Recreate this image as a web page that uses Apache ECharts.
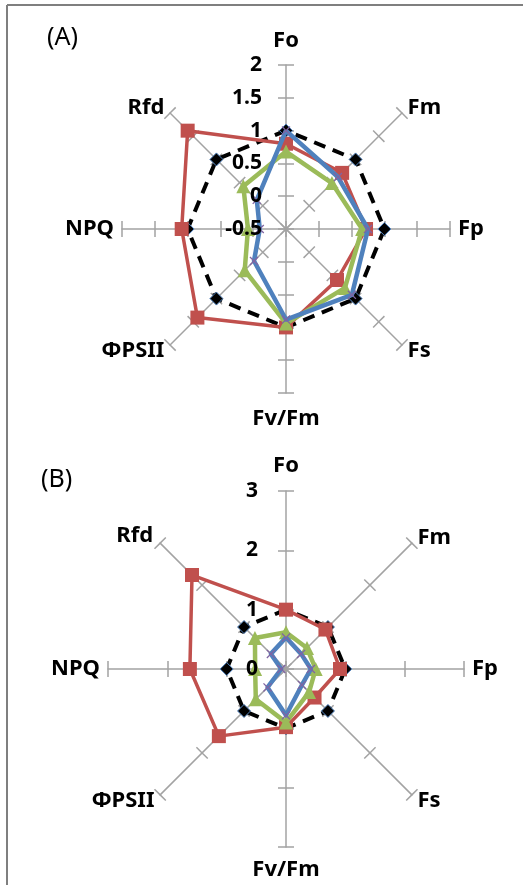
<!DOCTYPE html>
<html>
<head>
<meta charset="utf-8">
<script src="https://cdn.jsdelivr.net/npm/echarts@6/dist/echarts.min.js"></script>
<style>
html,body{margin:0;padding:0;background:#fff;}
#chart{width:523px;height:885px;}
</style>
</head>
<body>
<div id="chart"></div>
<script>
// ---- data (clockwise from top, as in the reference) ----
const categories = ['Fo', 'Fm', 'Fp', 'Fs', 'Fv/Fm', 'ΦPSII', 'NPQ', 'Rfd'];

// Panel A scale
const minA = -0.5, maxA = 2, splitA = 5;
// Panel B scale
const minB = 0, maxB = 3, splitB = 3;

// Panel A series
const controlA = [1, 1, 1, 1, 1, 1, 1, 1];
const redA     = [0.80, 0.71, 0.72, 0.60, 1.00, 1.41, 1.09, 1.62];
const greenA   = [0.68, 0.49, 0.66, 0.77, 0.94, 0.39, 0.08, 0.42];
const blueA    = [1.00, 0.62, 0.75, 0.92, 0.88, 0.19, -0.10, 0.13];

// Panel B series
const controlB = [1, 1, 1, 1, 1, 1, 1, 1];
const redB     = [1.00, 0.94, 0.91, 0.68, 0.98, 1.60, 1.62, 2.24];
const greenB   = [0.62, 0.50, 0.50, 0.55, 0.90, 0.72, 0.52, 0.74];
const blueB    = [0.53, 0.36, 0.42, 0.38, 0.78, 0.44, 0.08, 0.36];

// ---- build ----
// ECharts places indicators counter-clockwise; reorder to get clockwise layout.
const ecOrder = [0, 7, 6, 5, 4, 3, 2, 1];
const reorder = arr => ecOrder.map(i => arr[i]);

const FONT = 'Noto Sans';
const AXIS_COLOR = '#a3a3a3';

function makeRadars(center, radius, min, max, split, gaps, labelMargin) {
  const common = {
    center: center, radius: radius, splitNumber: split, startAngle: 90,
    shape: 'polygon',
    splitLine: { show: false }, splitArea: { show: false }
  };
  const tickStyle = { color: AXIS_COLOR, width: 1.5 };
  const named = ecOrder.map(i => {
    const ind = { name: categories[i], min: min, max: max };
    if (gaps[categories[i]] != null) ind.nameGap = gaps[categories[i]];
    return ind;
  });
  const blank = ecOrder.map(i => ({ name: '', min: min, max: max }));
  const labelled = ecOrder.map(i => {
    const ind = { name: '', min: min, max: max };
    if (i === 0) {
      ind.axisLabel = {
        show: true, color: '#000', fontFamily: FONT, fontWeight: 'bold',
        fontSize: 21, margin: labelMargin, align: 'right', verticalAlign: 'middle'
      };
    }
    return ind;
  });
  return [
    Object.assign({}, common, {
      z: 0,
      indicator: named,
      nameGap: 8,
      axisName: { color: '#000', fontFamily: FONT, fontWeight: 'bold', fontSize: 22 },
      axisLine: { show: true, lineStyle: { color: AXIS_COLOR, width: 1.5 } },
      axisTick: { show: true, length: 8, lineStyle: tickStyle },
      axisLabel: { show: false }
    }),
    // second copy: ticks on the other side of each spoke
    Object.assign({}, common, {
      z: 0,
      indicator: blank,
      axisName: { show: false },
      axisLine: { show: false },
      axisTick: { show: true, length: -8, lineStyle: tickStyle },
      axisLabel: { show: false }
    }),
    // tick labels drawn above the data lines
    Object.assign({}, common, {
      z: 20,
      indicator: labelled,
      axisName: { show: false },
      axisLine: { show: false },
      axisTick: { show: false },
      axisLabel: { show: false }
    })
  ];
}

const xPath = 'path://M0,1L1,0L5,4L9,0L10,1L6,5L10,9L9,10L5,6L1,10L0,9L4,5Z';

function makeSeries(radarIndex, control, red, green, blue) {
  return [
    {
      type: 'radar', radarIndex: radarIndex, z: 3,
      symbol: 'diamond', symbolSize: 13,
      itemStyle: { color: '#000', borderColor: '#4F81BD', borderWidth: 1 },
      lineStyle: { color: '#000', width: 4, type: [12, 8] },
      data: [{ value: reorder(control) }]
    },
    {
      type: 'radar', radarIndex: radarIndex, z: 4,
      symbol: 'rect', symbolSize: 14,
      itemStyle: { color: '#C0504D' },
      lineStyle: { color: '#C0504D', width: 3.5 },
      data: [{ value: reorder(red) }]
    },
    {
      type: 'radar', radarIndex: radarIndex, z: 5,
      symbol: 'triangle', symbolSize: 14,
      itemStyle: { color: '#9BBB59' },
      lineStyle: { color: '#9BBB59', width: 4.5 },
      data: [{ value: reorder(green) }]
    },
    {
      type: 'radar', radarIndex: radarIndex, z: 6,
      symbol: xPath, symbolSize: 9,
      itemStyle: { color: '#8064A2' },
      lineStyle: { color: '#4F81BD', width: 4.5 },
      data: [{ value: reorder(blue) }]
    }
  ];
}

const radarsA = makeRadars([286, 229], 164, minA, maxA, splitA, { 'Fo': 13, 'Fv/Fm': 15 }, 24);
const radarsB = makeRadars([286, 669], 178, minB, maxB, splitB, { 'Fo': 14, 'Fv/Fm': 12, 'Rfd': 10 }, 28);

const option = {
  animation: false,
  backgroundColor: '#fff',
  graphic: [
    { type: 'line', shape: { x1: 7, y1: 5, x2: 523, y2: 5 }, style: { stroke: '#7f7f7f', lineWidth: 2 } },
    { type: 'line', shape: { x1: 7, y1: 5, x2: 7, y2: 885 }, style: { stroke: '#7f7f7f', lineWidth: 2 } },
    { type: 'text', left: 47, top: 25, style: { text: '(A)', fontFamily: FONT, fontSize: 25, fill: '#000' } },
    { type: 'text', left: 41, top: 467, style: { text: '(B)', fontFamily: FONT, fontSize: 25, fill: '#000' } }
  ],
  radar: radarsA.concat(radarsB),
  series: makeSeries(0, controlA, redA, greenA, blueA)
    .concat(makeSeries(3, controlB, redB, greenB, blueB))
};

const chart = echarts.init(document.getElementById('chart'), null, { renderer: 'canvas' });
chart.setOption(option);
</script>
</body>
</html>
